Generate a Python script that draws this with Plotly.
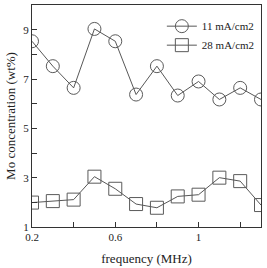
import plotly.graph_objects as go

freq = [0.2, 0.3, 0.4, 0.5, 0.6, 0.7, 0.8, 0.9, 1.0, 1.1, 1.2, 1.3]
mo_11 = [8.53, 7.52, 6.64, 9.03, 8.53, 6.37, 7.52, 6.33, 6.9, 6.17, 6.64, 6.17]
mo_28 = [1.99, 2.05, 2.11, 3.04, 2.55, 1.93, 1.78, 2.24, 2.31, 3.0, 2.86, 1.89]
names = ["11 mA/cm2", "28 mA/cm2"]

font = "Liberation Serif, Times New Roman, serif"
fig = go.Figure()
fig.add_trace(go.Scatter(
    x=freq, y=mo_11, name=names[0], mode="lines+markers",
    line=dict(color="#444", width=0.9),
    marker=dict(symbol="circle-open", size=13, color="#5a5a5a", line=dict(width=1)),
))
fig.add_trace(go.Scatter(
    x=freq, y=mo_28, name=names[1], mode="lines+markers",
    line=dict(color="#444", width=0.9),
    marker=dict(symbol="square-open", size=13, color="#5a5a5a", line=dict(width=1)),
))

axis_common = dict(
    showline=True, mirror=True, linecolor="#333", linewidth=1,
    ticks="inside", ticklen=5, tickcolor="#333", showgrid=False, zeroline=False,
    tickfont=dict(family=font, size=11, color="#222"),
)
fig.update_xaxes(
    range=[0.2, 1.3], tick0=0.2, dtick=0.4,
    minor=dict(tick0=0.2, dtick=0.2, ticks="inside", ticklen=5, tickcolor="#333"),
    title=dict(text="frequency (MHz)", font=dict(family=font, size=13, color="#222"), standoff=11),
    **axis_common,
)
fig.update_yaxes(
    range=[1, 10], tick0=1, dtick=2,
    minor=dict(tick0=1, dtick=1, ticks="inside", ticklen=5, tickcolor="#333"),
    title=dict(text="Mo concentration (wt%)", font=dict(family=font, size=13, color="#222"), standoff=4),
    **axis_common,
)
fig.update_layout(
    width=267, height=268,
    margin=dict(l=32, r=6, t=5, b=41),
    paper_bgcolor="white", plot_bgcolor="white",
    showlegend=True,
    legend=dict(x=0.995, y=0.97, xanchor="right", yanchor="top",
                font=dict(family=font, size=11, color="#222"),
                bgcolor="rgba(0,0,0,0)", tracegroupgap=0, itemwidth=30),
)
fig.write_html("out.html")
